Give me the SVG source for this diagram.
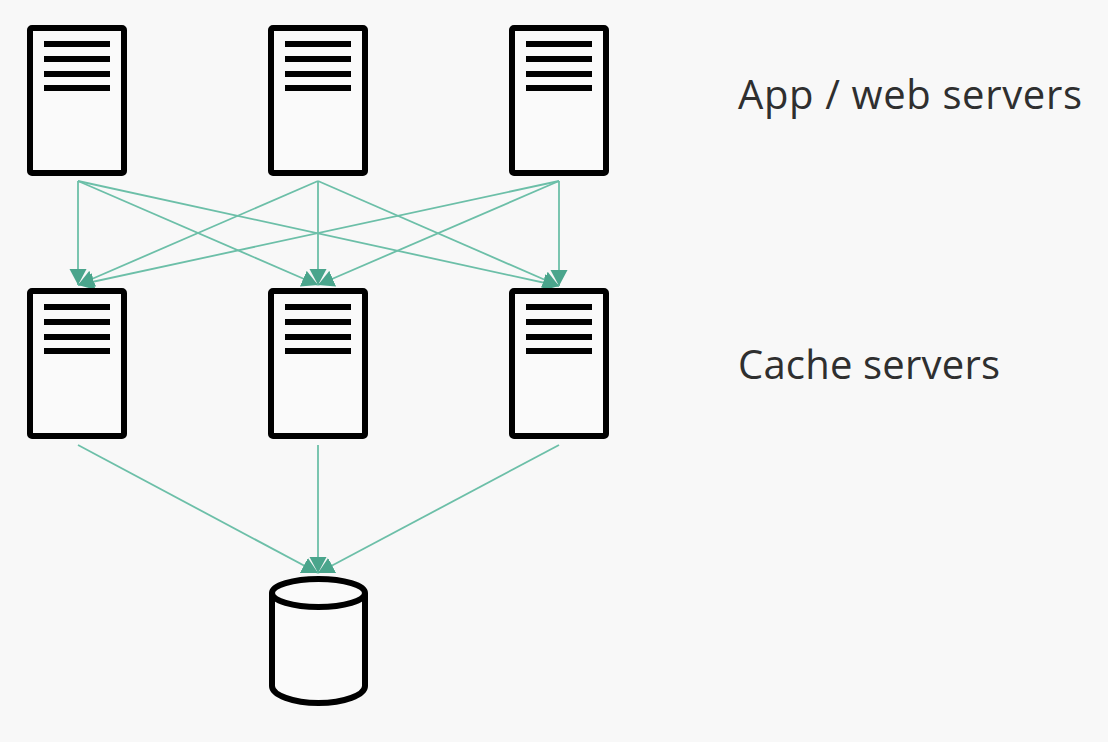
<svg xmlns="http://www.w3.org/2000/svg" width="1108" height="742" viewBox="0 0 1108 742">
<style>
.box{fill:#fafafa;stroke:#000;stroke-width:6;stroke-linejoin:round}
.ln{fill:none;stroke:#000;stroke-width:6}
.c{fill:none;stroke:#6cbfa8;stroke-width:1.8;marker-end:url(#a)}
.t{font-family:"Open Sans","Noto Sans",sans-serif;font-size:40px;fill:#2f2f2f}
.db{fill:#fafafa;stroke:#000;stroke-width:6}
</style>
<defs>
<marker id="a" markerUnits="userSpaceOnUse" markerWidth="18" markerHeight="18" refX="16" refY="9" orient="auto"><path d="M0 0.5L16 9L0 17.500z" fill="#4aa58c"/></marker>
<g id="srv"><rect class="box" x="30" y="28" width="94" height="145" rx="2"/><path class="ln" d="M44 44H110M44 59H110M44 74H110M44 88H110"/></g>
</defs>
<rect width="1108" height="742" fill="#f8f8f8"/>
<g id="connectors">
<path class="c" d="M78 181L78 285"/><path class="c" d="M78 181L318 285"/><path class="c" d="M78 181L559 286"/>
<path class="c" d="M318 181L78 285"/><path class="c" d="M318 181L318 285"/><path class="c" d="M318 181L559 286"/>
<path class="c" d="M559 181L78 285"/><path class="c" d="M559 181L318 285"/><path class="c" d="M559 181L559 286"/>
<path class="c" d="M78 445L318 573"/><path class="c" d="M318 445L318 573"/><path class="c" d="M559 445L318 573"/>
</g>
<g id="app1"><use href="#srv"/></g>
<g id="app2"><use href="#srv" x="241"/></g>
<g id="app3"><use href="#srv" x="482"/></g>
<g id="cache1"><use href="#srv" y="263"/></g>
<g id="cache2"><use href="#srv" x="241" y="263"/></g>
<g id="cache3"><use href="#srv" x="482" y="263"/></g>
<g id="db"><path class="db" d="M272 593V686C272 695 293 703 318.500 703S365 695 365 686V593"/><ellipse class="db" cx="318.500" cy="593" rx="46.500" ry="14"/></g>
<g id="labels"><text class="t" x="738" y="109" textLength="344">App / web servers</text><text class="t" x="738" y="379" textLength="262">Cache servers</text></g>
</svg>
